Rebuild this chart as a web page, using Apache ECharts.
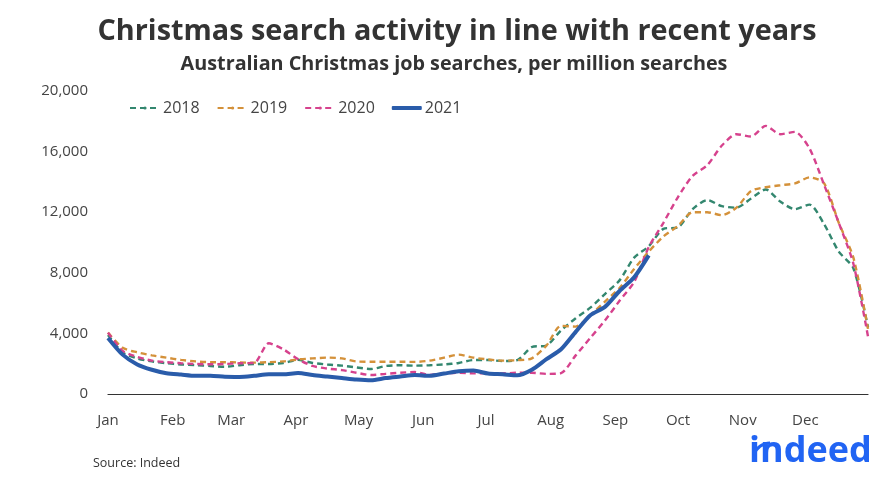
<!DOCTYPE html>
<html><head><meta charset="utf-8">
<script src="https://cdn.jsdelivr.net/npm/echarts@6/dist/echarts.min.js"></script>
<style>html,body{margin:0;padding:0;background:#fff}#c{width:887px;height:481px}</style>
</head><body><div id="c"></div>
<script>
const days = [0,7,14,21,28,35,42,49,56,63,70,77,84,91,98,105,112,119,126,133,140,147,154,161,168,175,182,189,196,203,210,217,224,231,238,245,252,259,266,273,280,287,294,301,308,315,322,329,336,343,350,357,364];
const monthStarts = [0,31,59,90,120,151,181,212,243,273,304,334];
const monthLabels = ['Jan','Feb','Mar','Apr','May','Jun','Jul','Aug','Sep','Oct','Nov','Dec'];
const yTicks = [0,4000,8000,12000,16000,20000];
const s2018 = [3900,2750,2350,2150,2030,1950,1900,1850,1800,1900,1980,1980,2050,2250,2050,1950,1870,1750,1650,1850,1900,1870,1900,1950,2050,2240,2240,2180,2240,3100,3200,4200,5000,5700,6600,7500,9000,9750,10900,11000,12200,12800,12400,12300,12900,13500,12700,12200,12500,11200,9400,8300,4400];
const s2019 = [4050,3050,2750,2550,2400,2250,2150,2100,2100,2080,2070,2100,2150,2280,2350,2400,2350,2150,2130,2130,2130,2120,2200,2400,2600,2400,2280,2200,2230,2350,3200,4500,4450,5200,6100,7000,8250,9400,10400,11100,12000,12000,11800,12300,13400,13650,13780,13900,14300,13900,11300,9000,4300];
const s2020 = [4050,2850,2450,2200,2100,2030,1980,1960,1980,2030,2050,3350,2950,2300,1850,1680,1580,1400,1250,1330,1400,1450,1260,1350,1400,1360,1380,1360,1400,1400,1330,1380,2550,3700,4850,6150,7400,9700,11300,13000,14400,15100,16400,17150,17000,17700,17150,17300,16200,13800,11300,8600,3800];
const s2021 = [3700,2600,1950,1600,1370,1280,1200,1200,1140,1130,1200,1300,1300,1380,1250,1150,1050,950,900,1050,1150,1250,1200,1350,1500,1550,1350,1300,1230,1600,2300,2950,4100,5200,5750,6800,7700,9150];
const seriesNames = ['2018','2019','2020','2021'];
const seriesColors = ['#33876f','#d4913a','#d6428d','#2a5caa'];

const pair = arr => arr.map((v,i)=>[days[i], v]);
const dataSets = [s2018, s2019, s2020, s2021];
const series = dataSets.map((arr, k) => ({
  name: seriesNames[k], type: 'line', data: pair(arr), symbol: 'none', smooth: 0.25,
  lineStyle: k === 3 ? {color: seriesColors[k], width: 4} : {color: seriesColors[k], width: 2.4, type: [6,4]},
  itemStyle: {color: seriesColors[k]}, z: k === 3 ? 5 : 2
}));

const chart = echarts.init(document.getElementById('c'), null, {renderer: 'canvas'});
chart.setOption({
  animation: false,
  title: [
    {text: 'Christmas search activity in line with recent years', left: 452, top: 12, textAlign: 'center',
     textStyle: {fontFamily: 'Open Sans', fontWeight: 'bold', fontSize: 28.8, color: '#333'}},
    {text: 'Australian Christmas job searches, per million searches', left: 449, top: 49, textAlign: 'center',
     textStyle: {fontFamily: 'Open Sans', fontWeight: 'bold', fontSize: 19.8, color: '#333'}}
  ],
  legend: {left: 124, top: 95, itemWidth: 30, itemHeight: 4, itemGap: 17,
    textStyle: {fontFamily: 'Open Sans', fontSize: 16, color: '#444', padding: [0,0,0,-2]},
    data: ['2018','2019','2020',{name: '2021', icon: 'roundRect'}]},
  grid: {left: 108, right: 19, top: 91, bottom: 87},
  xAxis: {type: 'value', min: 0, max: 364,
    axisLine: {show: true, lineStyle: {color: '#333', width: 1.2}},
    axisTick: {show: false}, splitLine: {show: false},
    axisLabel: {customValues: monthStarts, margin: 19, fontFamily: 'Open Sans', fontSize: 15, color: '#444',
      formatter: v => monthLabels[monthStarts.indexOf(v)]}},
  yAxis: {type: 'value', min: 0, max: 20000, interval: 4000,
    axisLine: {show: false}, axisTick: {show: false}, splitLine: {show: false},
    axisLabel: {margin: 20, fontFamily: 'Open Sans', fontSize: 15, color: '#444',
      formatter: v => v.toLocaleString('en-US')}},
  graphic: [
    {type: 'text', left: 93, top: 457, style: {text: 'Source: Indeed', font: '12.5px "Open Sans"', fill: '#333'}},
    {type: 'text', left: 749, top: 434, style: {text: 'indeed', font: 'bold 36px "Open Sans"', fill: '#2164f3'}},
    {type: 'arc', shape: {cx: 770, cy: 460, r: 17, startAngle: Math.PI*1.1, endAngle: Math.PI*1.5},
     style: {stroke: '#2164f3', lineWidth: 3.2, fill: null}}
  ],
  series: series
});
</script></body></html>
